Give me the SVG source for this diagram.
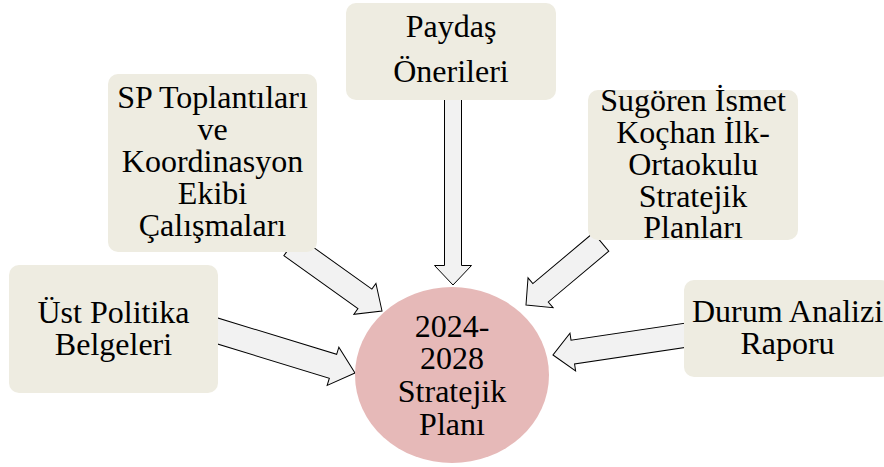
<svg xmlns="http://www.w3.org/2000/svg" width="884" height="467" viewBox="0 0 884 467">
<style>
.box{fill:#EEECE1;}
.arr{fill:#F2F2F2;stroke:#000;stroke-width:1;stroke-linejoin:miter;}
.t{font-family:"Liberation Serif","Times New Roman",serif;font-size:32px;fill:#000;text-anchor:middle;}
.c{fill:#E6B9B8;}
</style>
<rect width="884" height="467" fill="#fff"/>
<g id="connectors">
<path class="arr" transform="translate(453 285) rotate(90)" d="M0,0 L-19.5,-18.5 L-19.5,-8.5 L-190,-8.5 L-190,8.5 L-19.5,8.5 L-19.5,18.5 Z"/>
<path class="arr" transform="translate(382 311) rotate(35.5)" d="M0,0 L-21,-19 L-21,-12 L-112,-12 L-112,12 L-21,12 L-21,19 Z"/>
<path class="arr" transform="translate(526 305) rotate(140)" d="M0,0 L-19,-19.5 L-19,-12 L-98,-12 L-98,12 L-19,12 L-19,19.5 Z"/>
<path class="arr" transform="translate(355 373) rotate(17)" d="M0,0 L-23,-20 L-23,-12.5 L-150,-12.5 L-150,12.5 L-23,12.5 L-23,20 Z"/>
<path class="arr" transform="translate(553 355) rotate(171.5)" d="M0,0 L-20,-19 L-20,-12 L-138,-12 L-138,12 L-20,12 L-20,19 Z"/>
</g>
<g id="paydas">
<rect class="box" x="346" y="3" width="210" height="97" rx="10"/>
<text class="t" x="451" y="37">Paydaş</text>
<text class="t" x="451" y="82">Önerileri</text>
</g>
<g id="sp">
<rect class="box" x="108" y="74" width="209" height="178" rx="10"/>
<text class="t" x="212.5" y="108">SP Toplantıları</text>
<text class="t" x="212.5" y="140">ve</text>
<text class="t" x="212.5" y="172">Koordinasyon</text>
<text class="t" x="212.5" y="204">Ekibi</text>
<text class="t" x="212.5" y="236">Çalışmaları</text>
</g>
<g id="sugoren">
<rect class="box" x="588" y="90" width="210" height="150" rx="10"/>
<text class="t" x="693" y="111">Sugören İsmet</text>
<text class="t" x="693" y="143">Koçhan İlk-</text>
<text class="t" x="693" y="175">Ortaokulu</text>
<text class="t" x="693" y="207">Stratejik</text>
<text class="t" x="693" y="238">Planları</text>
</g>
<g id="ust">
<rect class="box" x="9" y="265" width="209" height="128" rx="10"/>
<text class="t" x="113.5" y="323">Üst Politika</text>
<text class="t" x="113.5" y="355">Belgeleri</text>
</g>
<g id="durum">
<rect class="box" x="684" y="280" width="207" height="97" rx="10"/>
<text class="t" x="787.5" y="322">Durum Analizi</text>
<text class="t" x="787.5" y="354">Raporu</text>
</g>
<g id="plan">
<ellipse class="c" cx="452" cy="375" rx="97" ry="88"/>
<text class="t" x="452" y="337">2024-</text>
<text class="t" x="452" y="369">2028</text>
<text class="t" x="452" y="402">Stratejik</text>
<text class="t" x="452" y="435">Planı</text>
</g>
</svg>
